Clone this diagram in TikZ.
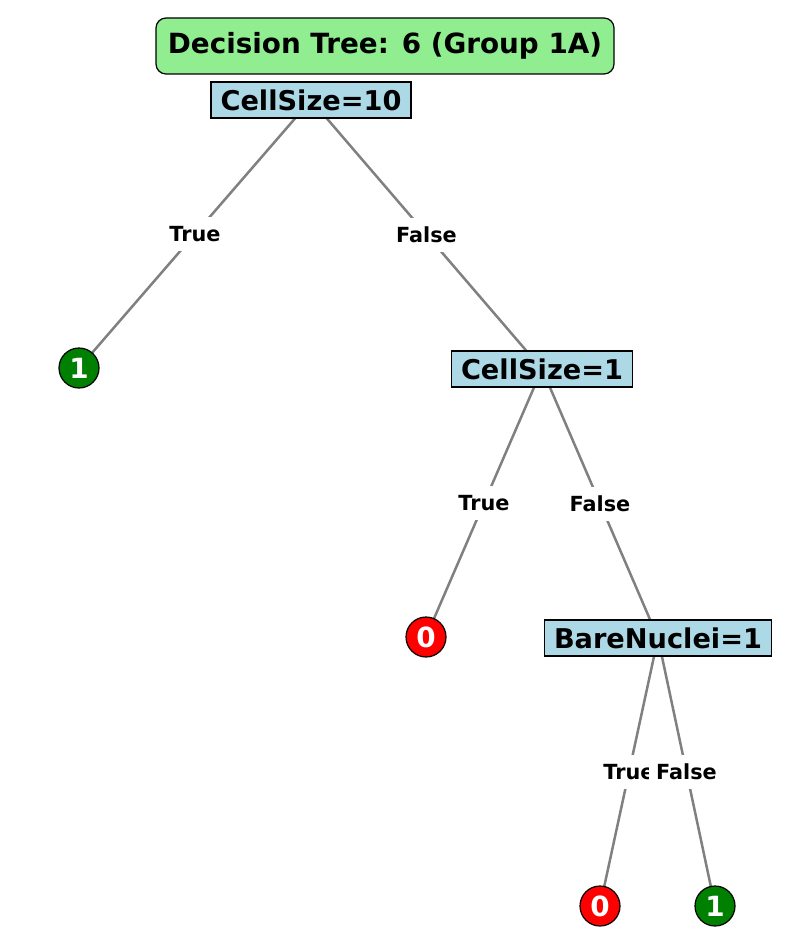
\documentclass[tikz,border=0pt]{standalone}
\usepackage{fontspec}
\setmainfont{DejaVu Sans}
\usetikzlibrary{backgrounds}
\definecolor{splitblue}{HTML}{ADD8E6}
\definecolor{titlegreen}{HTML}{90EE90}
\definecolor{leafgreen}{HTML}{008000}
\definecolor{leafred}{HTML}{FF0000}

\begin{document}
\begin{tikzpicture}[x=1pt,y=-1pt,
  split/.style={shape=rectangle,draw=black,fill=splitblue,line width=1.2pt,inner xsep=9.5pt,inner ysep=0pt,minimum height=36pt,font=\fontsize{27.2}{33}\selectfont\bfseries},
  leaf/.style={shape=circle,draw=black,line width=1.2pt,minimum size=40pt,inner sep=0pt,text=white,font=\fontsize{27.8}{33}\selectfont\bfseries},
  branch/.style={fill=white,inner xsep=7pt,inner ysep=0pt,minimum height=34pt,font=\fontsize{20.8}{25}\selectfont\bfseries}]
\useasboundingbox (0,0) rectangle (794,944);
\node[shape=rectangle,draw=black,fill=titlegreen,rounded corners=10pt,line width=1.2pt,minimum width=458pt,minimum height=56pt,font=\fontsize{27.8}{33}\selectfont\bfseries] (title) at (385,46) {Decision Tree: 6 (Group 1A)};
\node[split] (0) at (311,100) {CellSize=10};
\node[leaf,fill=leafgreen] (1) at (79,368) {1};
\node[split] (2) at (542,369) {CellSize=1};
\node[leaf,fill=leafred] (3) at (426,637) {0};
\node[split] (4) at (658,638) {BareNuclei=1};
\node[leaf,fill=leafred] (5) at (600,906) {0};
\node[leaf,fill=leafgreen] (6) at (715,906) {1};

\begin{scope}[on background layer]
\path [-,draw=gray,line width=2.5pt] (0.center) edge node[branch] {True} (1.center);
\path [-,draw=gray,line width=2.5pt] (0.center) edge node[branch] {False} (2.center);
\path [-,draw=gray,line width=2.5pt] (2.center) edge node[branch] {True} (3.center);
\path [-,draw=gray,line width=2.5pt] (2.center) edge node[branch] {False} (4.center);
\path [-,draw=gray,line width=2.5pt] (4.center) edge node[branch] {True} (5.center);
\path [-,draw=gray,line width=2.5pt] (4.center) edge node[branch] {False} (6.center);
\end{scope}
\end{tikzpicture}
\end{document}
